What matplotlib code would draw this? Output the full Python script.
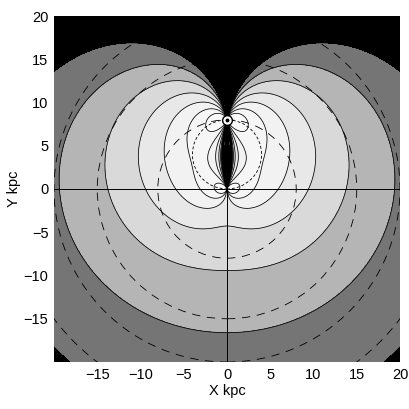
"""
Mapa de error de distancia cinematica en el plano galactico.
"""
import numpy as np
import matplotlib
matplotlib.use('Agg')
import matplotlib.pyplot as plt
from matplotlib.patches import Circle

# Parametros del modelo / datos
R0 = 8.0            # distancia Sol - centro galactico (kpc)
V0 = 1.0            # velocidad de rotacion (unidades relativas)
BETA = -0.05        # pendiente de la curva de rotacion externa V ~ R^beta
ring_radii = [8, 15, 20, 25]                       # circulos a trazos (kpc)
fill_levels = [10, 20, 40, 80, 160, 320, 640]      # niveles de relleno
line_levels = [10, 20, 40, 80, 160, 320, 640, 1280, 2560, 5120]
ticks = [-15, -10, -5, 0, 5, 10, 15, 20]
xlim = (-20, 20)
ylim = (-20, 20)

# Estilo
fill_grays = ['0.98', '0.965', '0.95', '0.91', '0.85', '0.71', '0.46', '0.0']

plt.rcParams['font.family'] = ['Liberation Sans', 'DejaVu Sans']


def campo_error(x, y, beta):
    """Error de distancia ~ d^2 / |d(d*v_t)/dd| para V(R) = V0 (R/R0)^beta."""
    d = np.hypot(x, y - R0)
    R = np.hypot(x, y)
    cos_l = (R0 - y) / d
    sin2_l = 1.0 - cos_l ** 2
    V = V0 * (R / R0) ** beta
    v_t = V * (R0 * cos_l - d) / R - V0 * cos_l
    dv_t = -V * (beta * (R0 * cos_l - d) ** 2 + R0 ** 2 * sin2_l) / R ** 3
    s = d ** 2 / np.abs(v_t + d * dv_t)
    return np.nan_to_num(s, nan=1e6, posinf=1e6)


n = 900
gx = np.linspace(xlim[0], xlim[1], n)
gy = np.linspace(ylim[0], ylim[1], n)
X, Y = np.meshgrid(gx, gy)
with np.errstate(divide='ignore', invalid='ignore'):
    # curva plana cerca del eje, ligera caida en el disco externo
    S = np.maximum(campo_error(X, Y, 0.0), campo_error(X, Y, BETA))

fig = plt.figure(figsize=(4.09, 4.09), dpi=100)
ax = fig.add_axes([54 / 409, 1 - 362 / 409, 346 / 409, 346 / 409])

ax.contourf(X, Y, S, levels=[0] + fill_levels + [1e9], colors=fill_grays)
ax.contour(X, Y, S, levels=line_levels, colors='k', linewidths=0.55)

# Circulos galactocentricos y circulo de puntos tangentes
for r in ring_radii:
    ax.add_patch(Circle((0, 0), r, fill=False, ec='k', lw=0.6,
                        linestyle=(0, (10, 8))))
ax.add_patch(Circle((0, R0 / 2), R0 / 2, fill=False, ec='k', lw=0.6,
                    linestyle=(0, (3.5, 2.5))))

ax.axhline(0, color='k', lw=0.7)
ax.axvline(0, color='k', lw=0.7)

# Sol
ax.plot(0, R0, 'o', ms=7, mfc='white', mec='k', mew=1.0, zorder=5)
ax.plot(0, R0, 'o', ms=1.8, color='k', zorder=6)

ax.set_xlim(*xlim)
ax.set_ylim(*ylim)
ax.set_xticks(ticks)
ax.set_yticks(ticks)
ax.tick_params(length=0, labelsize=10.5, pad=4)
ax.set_xlabel('X kpc', fontsize=10.5, labelpad=2)
ax.set_ylabel('Y kpc', fontsize=10.5, labelpad=2)
for s in ax.spines.values():
    s.set_visible(False)

fig.savefig('out.png', dpi=100)
